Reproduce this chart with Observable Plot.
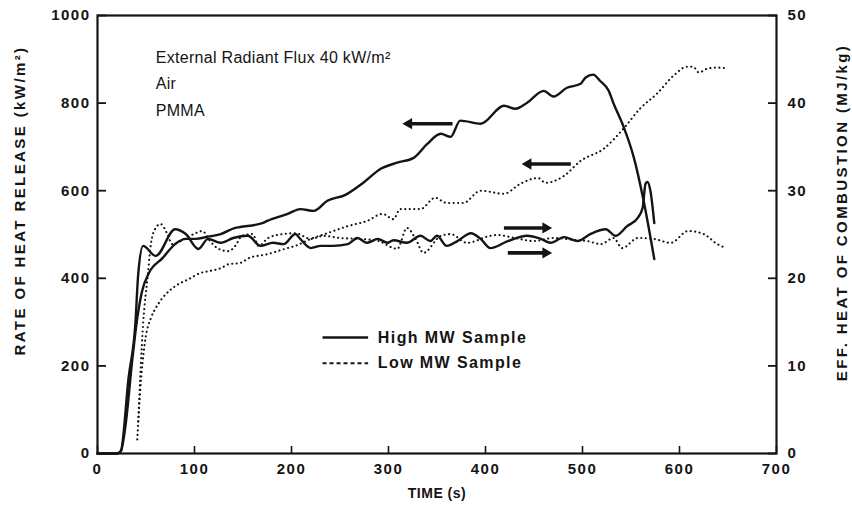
<!DOCTYPE html>
<html>
<head>
<meta charset="utf-8">
<script src="https://cdn.jsdelivr.net/npm/d3@7"></script>
<script src="https://cdn.jsdelivr.net/npm/@observablehq/plot@0.6"></script>
<style>
  body { margin: 0; background: #fff; }
  #chart svg { display: block; }
  #chart g[aria-label$="tick label"] { font-weight: bold; font-size: 15px; letter-spacing: 1.5px; }
  #chart g[aria-label="x-axis label"] { font-weight: bold; font-size: 14px; letter-spacing: 0.5px; }
  #chart g.ylab text { font-weight: bold; font-size: 15px; letter-spacing: 2.4px; }
  #chart g.note text { letter-spacing: 0.3px; }
  #chart g.legend text { letter-spacing: 1.4px; font-weight: bold; }
</style>
</head>
<body>
<div id="chart"></div>
<script>
// ---- data ----
const xTicks = [0, 100, 200, 300, 400, 500, 600, 700];
const yTicksLeft = [0, 200, 400, 600, 800, 1000];
const yTicksRight = [0, 10, 20, 30, 40, 50];          // MJ/kg
const MJ_TO_LEFT = 20;                                  // 50 MJ/kg <-> 1000 kW/m²

const xLabel = "TIME (s)";
const yLabelLeft = "RATE OF HEAT RELEASE (kW/m²)";
const yLabelRight = "EFF. HEAT OF COMBUSTION (MJ/kg)";

// High MW sample, rate of heat release (kW/m²)
const highRHR_t = [0, 20, 24, 29, 36, 41, 46, 53, 67, 80, 91, 101, 114, 127, 142, 147, 170, 175, 196, 209, 223, 237, 255, 275, 292, 309, 326, 340, 354, 364, 374, 395, 419, 431, 443, 460, 470, 484, 498, 503, 511, 518, 527, 532, 542, 553, 563, 574];
const highRHR_v = [0, 0, 5, 66, 217, 309, 371, 412, 446, 478, 490, 490, 495, 501, 515, 517, 526, 531, 547, 558, 554, 577, 590, 620, 650, 664, 675, 707, 730, 723, 760, 753, 794, 787, 801, 828, 815, 835, 844, 858, 865, 851, 828, 799, 748, 675, 577, 444];

// Low MW sample, rate of heat release (kW/m²)
const lowRHR_t = [41, 44, 49, 55, 60, 67, 80, 94, 106, 114, 127, 135, 147, 156, 175, 196, 204, 220, 237, 258, 278, 294, 305, 312, 333, 348, 360, 377, 395, 419, 436, 454, 462, 481, 498, 522, 542, 560, 577, 594, 608, 614, 620, 629, 639, 647];
const lowRHR_v = [32, 142, 256, 309, 332, 355, 382, 398, 412, 416, 423, 432, 435, 446, 455, 469, 474, 490, 503, 519, 531, 547, 535, 558, 558, 584, 572, 572, 600, 593, 616, 629, 618, 634, 668, 696, 741, 789, 822, 863, 883, 883, 870, 879, 881, 880];

// High MW sample, effective heat of combustion (MJ/kg)
const highHOC_t = [0, 20, 24, 32, 39, 42, 47, 60, 80, 91, 104, 114, 127, 140, 155, 168, 181, 192, 204, 209, 220, 230, 243, 258, 268, 278, 289, 299, 305, 319, 333, 343, 350, 360, 371, 385, 395, 405, 423, 443, 457, 467, 481, 495, 508, 524, 534, 546, 557, 562, 565, 567, 570, 574];
const highHOC_v = [0, 0, 0.25, 8.6, 14.75, 20.5, 23.7, 22.55, 25.6, 25.05, 23.35, 24.5, 24.05, 24.6, 24.85, 23.7, 24.05, 23.9, 25.05, 24.5, 23.45, 23.7, 23.7, 23.9, 24.6, 24.05, 24.5, 24.05, 24.35, 24.05, 24.85, 24.25, 24.85, 23.7, 24.25, 25.15, 24.5, 23.45, 24.25, 24.85, 24.5, 24.05, 24.7, 24.25, 25.05, 25.6, 24.85, 25.95, 26.9, 28.05, 30.8, 31.0, 30.0, 26.3];

// Low MW sample, effective heat of combustion (MJ/kg)
const lowHOC_t = [42, 47, 52, 55, 60, 65, 72, 77, 90, 101, 108, 116, 125, 135, 142, 149, 160, 166, 176, 191, 204, 220, 233, 250, 270, 290, 305, 309, 319, 328, 336, 354, 364, 381, 405, 412, 430, 450, 470, 490, 505, 519, 532, 541, 557, 573, 591, 609, 625, 639, 647];
const lowHOC_v = [3.65, 14.75, 20.5, 23.9, 25.75, 26.2, 25.05, 23.9, 24.5, 25.15, 25.4, 24.25, 23.35, 23.1, 23.7, 24.85, 25.05, 23.7, 24.6, 25.05, 25.15, 24.5, 24.85, 24.6, 24.5, 24.25, 23.45, 23.35, 25.75, 24.5, 22.9, 24.85, 25.05, 24.05, 24.85, 24.95, 24.6, 24.25, 24.6, 24.4, 24.25, 23.9, 24.6, 23.45, 24.6, 24.5, 24.05, 25.4, 25.05, 23.9, 23.5];

// arrows pointing to the axis each curve belongs to (time, left-axis units; dir -1 = left, +1 = right)
const arrowFrom = [366, 488, 419, 423];
const arrowTo   = [321, 444, 462, 462];
const arrowAt   = [753, 661, 515, 458];
const arrowDir  = [-1, -1, 1, 1];

// annotations
const noteLines = ["External Radiant Flux 40 kW/m²", "Air", "PMMA"];
const noteX = 60;
const noteY = [904, 844, 783];

// legend
const legendLabels = ["High MW Sample", "Low MW Sample"];
const legendY = [265, 206];
const legendLineX = [232, 279];
const legendTextX = 289;

// ---- build ----
const zip = (t, v) => t.map((x, i) => ({t: x, v: v[i]}));
const highRHR = zip(highRHR_t, highRHR_v);
const lowRHR = zip(lowRHR_t, lowRHR_v);
const highHOC = zip(highHOC_t, highHOC_v);
const lowHOC = zip(lowHOC_t, lowHOC_v);
const arrows = arrowFrom.map((x, i) => ({x1: x, x2: arrowTo[i], y: arrowAt[i], dir: arrowDir[i]}));
const notes = noteLines.map((s, i) => ({s, x: noteX, y: noteY[i]}));
const legend = legendLabels.map((s, i) => ({s, y: legendY[i], x1: legendLineX[0], x2: legendLineX[1], xt: legendTextX}));

const INK = "#141414";
const solid = {stroke: INK, strokeWidth: 2.4, curve: "monotone-x"};
const dotted = {stroke: INK, strokeWidth: 2.1, strokeDasharray: "0.1,4.4", strokeLinecap: "round", curve: "monotone-x"};

const chart = Plot.plot({
  width: 852,
  height: 509,
  marginLeft: 97,
  marginRight: 76,
  marginTop: 15,
  marginBottom: 56,
  style: {fontFamily: "'Liberation Sans', Arial, Helvetica, sans-serif", fontSize: "15px", color: INK, background: "#fff"},
  x: {domain: [0, 700]},
  y: {domain: [0, 1000]},
  marks: [
    Plot.frame({stroke: INK, strokeWidth: 2.2}),
    Plot.axisX({ticks: xTicks, tickFormat: d => String(d), tickSize: -7, tickPadding: 17, strokeWidth: 1.6,
      label: xLabel, labelAnchor: "center", labelOffset: 44, labelArrow: "none"}),
    Plot.axisY({anchor: "left", ticks: yTicksLeft, tickFormat: d => String(d), tickSize: -9, tickPadding: 16, strokeWidth: 1.8,
      label: null}),
    Plot.axisY({anchor: "right", ticks: yTicksRight.map(v => v * MJ_TO_LEFT), tickFormat: d => String(d / MJ_TO_LEFT),
      tickSize: -9, tickPadding: 20, strokeWidth: 1.8, label: null}),
    Plot.text([yLabelLeft], {frameAnchor: "left", text: d => d, rotate: -90, textAnchor: "middle", lineAnchor: "middle",
      dx: -77, dy: -34, fill: INK, className: "ylab"}),
    Plot.text([yLabelRight], {frameAnchor: "right", text: d => d, rotate: -90, textAnchor: "middle", lineAnchor: "middle",
      dx: 66, dy: -22, fill: INK, className: "ylab"}),
    Plot.line(lowRHR, {x: "t", y: "v", ...dotted}),
    Plot.line(lowHOC, {x: "t", y: d => d.v * MJ_TO_LEFT, ...dotted}),
    Plot.line(highRHR, {x: "t", y: "v", ...solid}),
    Plot.line(highHOC, {x: "t", y: d => d.v * MJ_TO_LEFT, ...solid}),
    Plot.link(arrows, {x1: "x1", x2: "x2", y1: "y", y2: "y", stroke: INK, strokeWidth: 3.6}),
    Plot.dot(arrows, {x: "x2", y: "y", symbol: "triangle", r: 4.2, fill: INK, stroke: null,
      rotate: d => d.dir > 0 ? 90 : -90}),
    Plot.text(notes, {x: "x", y: "y", text: "s", textAnchor: "start", fontSize: 16, fill: INK, className: "note"}),
    Plot.link(legend.slice(0, 1), {x1: "x1", x2: "x2", y1: "y", y2: "y", stroke: INK, strokeWidth: 2.6}),
    Plot.link(legend.slice(1, 2), {x1: "x1", x2: "x2", y1: "y", y2: "y", stroke: INK, strokeWidth: 2, strokeDasharray: "4,3"}),
    Plot.text(legend, {x: "xt", y: "y", text: "s", textAnchor: "start", fontSize: 16, fill: INK, className: "legend"})
  ]
});
document.getElementById("chart").append(chart);
</script>
</body>
</html>
